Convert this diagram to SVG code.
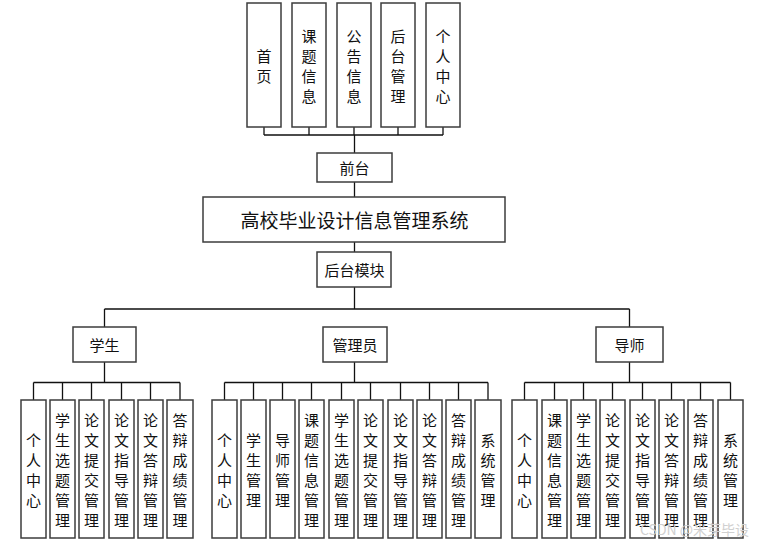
<svg xmlns="http://www.w3.org/2000/svg" width="759" height="543" viewBox="0 0 759 543">
<style>
.box{fill:#fff;stroke:#3c3c3c;stroke-width:1.5}
.ln{fill:none;stroke:#111;stroke-width:1.3}
text{font-family:"Noto Sans CJK SC","Liberation Sans",sans-serif;fill:#111;text-anchor:middle;dominant-baseline:central}
.v{font-size:15px}
.h{font-size:15px}
.t{font-size:19px}
.wm{font-size:14px;fill:#d0d0d0;text-anchor:start}
</style>
<rect width="759" height="543" fill="#fff"/>
<g id="connectors">
<path class="ln" d="M264,127V135M309,127V135M354,127V135M398,127V135M443,127V135M264,135H443M354.5,135V153"/>
<path class="ln" d="M354.5,182V197M354.5,242V252M354.5,287V309M104.5,309H629.5M104.5,309V327M629.5,309V327"/>
<path class="ln" d="M104.5,362V382.5M33.5,382.5H180M33.5,382.5V400M62.5,382.5V400M91.5,382.5V400M121.5,382.5V400M150.5,382.5V400M180,382.5V400"/>
<path class="ln" d="M354.5,362V382.5M224.5,382.5H488M224.5,382.5V400M253.5,382.5V400M282.5,382.5V400M311.5,382.5V400M341.5,382.5V400M370.5,382.5V400M400.5,382.5V400M429.5,382.5V400M458.5,382.5V400M488,382.5V400"/>
<path class="ln" d="M629.5,362V382.5M524.5,382.5H730.5M524.5,382.5V400M554.5,382.5V400M583.5,382.5V400M612.5,382.5V400M642.5,382.5V400M671.5,382.5V400M700.5,382.5V400M730.5,382.5V400"/>
</g>
<g id="top-home"><rect class="box" x="247" y="3" width="34" height="124"/><text class="v" x="264" y="55"><tspan x="264" dy="0">首</tspan><tspan x="264" dy="20">页</tspan></text></g>
<g id="top-topic"><rect class="box" x="292" y="3" width="34" height="124"/><text class="v" x="309" y="35"><tspan x="309" dy="0">课</tspan><tspan x="309" dy="20">题</tspan><tspan x="309" dy="20">信</tspan><tspan x="309" dy="20">息</tspan></text></g>
<g id="top-notice"><rect class="box" x="337" y="3" width="34" height="124"/><text class="v" x="354" y="35"><tspan x="354" dy="0">公</tspan><tspan x="354" dy="20">告</tspan><tspan x="354" dy="20">信</tspan><tspan x="354" dy="20">息</tspan></text></g>
<g id="top-admin"><rect class="box" x="381" y="3" width="34" height="124"/><text class="v" x="398" y="35"><tspan x="398" dy="0">后</tspan><tspan x="398" dy="20">台</tspan><tspan x="398" dy="20">管</tspan><tspan x="398" dy="20">理</tspan></text></g>
<g id="top-personal"><rect class="box" x="426" y="3" width="34" height="124"/><text class="v" x="443" y="35"><tspan x="443" dy="0">个</tspan><tspan x="443" dy="20">人</tspan><tspan x="443" dy="20">中</tspan><tspan x="443" dy="20">心</tspan></text></g>
<g id="frontend"><rect class="box" x="317" y="153" width="75" height="29"/><text class="h" x="354.5" y="167.5">前台</text></g>
<g id="system"><rect class="box" x="203" y="197" width="302" height="45"/><text class="t" x="354.5" y="219.5">高校毕业设计信息管理系统</text></g>
<g id="backend"><rect class="box" x="317" y="252" width="74" height="35"/><text class="h" x="354.5" y="269.5">后台模块</text></g>
<g id="student"><rect class="box" x="73" y="327" width="63" height="35"/><text class="h" x="104.5" y="344.5">学生</text></g>
<g id="manager"><rect class="box" x="323" y="327" width="64" height="35"/><text class="h" x="355" y="344.5">管理员</text></g>
<g id="tutor"><rect class="box" x="596" y="327" width="67" height="35"/><text class="h" x="629.5" y="344.5">导师</text></g>

<g id="s1"><rect class="box" x="21" y="400" width="25" height="138"/><text class="v" y="439"><tspan x="33.5" dy="0">个</tspan><tspan x="33.5" dy="20">人</tspan><tspan x="33.5" dy="20">中</tspan><tspan x="33.5" dy="20">心</tspan></text></g>
<g id="s2"><rect class="box" x="50" y="400" width="25" height="138"/><text class="v" y="419"><tspan x="62.5" dy="0">学</tspan><tspan x="62.5" dy="20">生</tspan><tspan x="62.5" dy="20">选</tspan><tspan x="62.5" dy="20">题</tspan><tspan x="62.5" dy="20">管</tspan><tspan x="62.5" dy="20">理</tspan></text></g>
<g id="s3"><rect class="box" x="79" y="400" width="25" height="138"/><text class="v" y="419"><tspan x="91.5" dy="0">论</tspan><tspan x="91.5" dy="20">文</tspan><tspan x="91.5" dy="20">提</tspan><tspan x="91.5" dy="20">交</tspan><tspan x="91.5" dy="20">管</tspan><tspan x="91.5" dy="20">理</tspan></text></g>
<g id="s4"><rect class="box" x="109" y="400" width="25" height="138"/><text class="v" y="419"><tspan x="121.5" dy="0">论</tspan><tspan x="121.5" dy="20">文</tspan><tspan x="121.5" dy="20">指</tspan><tspan x="121.5" dy="20">导</tspan><tspan x="121.5" dy="20">管</tspan><tspan x="121.5" dy="20">理</tspan></text></g>
<g id="s5"><rect class="box" x="138" y="400" width="25" height="138"/><text class="v" y="419"><tspan x="150.5" dy="0">论</tspan><tspan x="150.5" dy="20">文</tspan><tspan x="150.5" dy="20">答</tspan><tspan x="150.5" dy="20">辩</tspan><tspan x="150.5" dy="20">管</tspan><tspan x="150.5" dy="20">理</tspan></text></g>
<g id="s6"><rect class="box" x="167" y="400" width="26" height="138"/><text class="v" y="419"><tspan x="180" dy="0">答</tspan><tspan x="180" dy="20">辩</tspan><tspan x="180" dy="20">成</tspan><tspan x="180" dy="20">绩</tspan><tspan x="180" dy="20">管</tspan><tspan x="180" dy="20">理</tspan></text></g>

<g id="m1"><rect class="box" x="212" y="400" width="25" height="138"/><text class="v" y="439"><tspan x="224.5" dy="0">个</tspan><tspan x="224.5" dy="20">人</tspan><tspan x="224.5" dy="20">中</tspan><tspan x="224.5" dy="20">心</tspan></text></g>
<g id="m2"><rect class="box" x="241" y="400" width="25" height="138"/><text class="v" y="439"><tspan x="253.5" dy="0">学</tspan><tspan x="253.5" dy="20">生</tspan><tspan x="253.5" dy="20">管</tspan><tspan x="253.5" dy="20">理</tspan></text></g>
<g id="m3"><rect class="box" x="270" y="400" width="25" height="138"/><text class="v" y="439"><tspan x="282.5" dy="0">导</tspan><tspan x="282.5" dy="20">师</tspan><tspan x="282.5" dy="20">管</tspan><tspan x="282.5" dy="20">理</tspan></text></g>
<g id="m4"><rect class="box" x="299" y="400" width="25" height="138"/><text class="v" y="419"><tspan x="311.5" dy="0">课</tspan><tspan x="311.5" dy="20">题</tspan><tspan x="311.5" dy="20">信</tspan><tspan x="311.5" dy="20">息</tspan><tspan x="311.5" dy="20">管</tspan><tspan x="311.5" dy="20">理</tspan></text></g>
<g id="m5"><rect class="box" x="329" y="400" width="25" height="138"/><text class="v" y="419"><tspan x="341.5" dy="0">学</tspan><tspan x="341.5" dy="20">生</tspan><tspan x="341.5" dy="20">选</tspan><tspan x="341.5" dy="20">题</tspan><tspan x="341.5" dy="20">管</tspan><tspan x="341.5" dy="20">理</tspan></text></g>
<g id="m6"><rect class="box" x="358" y="400" width="25" height="138"/><text class="v" y="419"><tspan x="370.5" dy="0">论</tspan><tspan x="370.5" dy="20">文</tspan><tspan x="370.5" dy="20">提</tspan><tspan x="370.5" dy="20">交</tspan><tspan x="370.5" dy="20">管</tspan><tspan x="370.5" dy="20">理</tspan></text></g>
<g id="m7"><rect class="box" x="388" y="400" width="25" height="138"/><text class="v" y="419"><tspan x="400.5" dy="0">论</tspan><tspan x="400.5" dy="20">文</tspan><tspan x="400.5" dy="20">指</tspan><tspan x="400.5" dy="20">导</tspan><tspan x="400.5" dy="20">管</tspan><tspan x="400.5" dy="20">理</tspan></text></g>
<g id="m8"><rect class="box" x="417" y="400" width="25" height="138"/><text class="v" y="419"><tspan x="429.5" dy="0">论</tspan><tspan x="429.5" dy="20">文</tspan><tspan x="429.5" dy="20">答</tspan><tspan x="429.5" dy="20">辩</tspan><tspan x="429.5" dy="20">管</tspan><tspan x="429.5" dy="20">理</tspan></text></g>
<g id="m9"><rect class="box" x="446" y="400" width="25" height="138"/><text class="v" y="419"><tspan x="458.5" dy="0">答</tspan><tspan x="458.5" dy="20">辩</tspan><tspan x="458.5" dy="20">成</tspan><tspan x="458.5" dy="20">绩</tspan><tspan x="458.5" dy="20">管</tspan><tspan x="458.5" dy="20">理</tspan></text></g>
<g id="m10"><rect class="box" x="475" y="400" width="26" height="138"/><text class="v" y="439"><tspan x="488" dy="0">系</tspan><tspan x="488" dy="20">统</tspan><tspan x="488" dy="20">管</tspan><tspan x="488" dy="20">理</tspan></text></g>

<g id="t1"><rect class="box" x="512" y="400" width="25" height="138"/><text class="v" y="439"><tspan x="524.5" dy="0">个</tspan><tspan x="524.5" dy="20">人</tspan><tspan x="524.5" dy="20">中</tspan><tspan x="524.5" dy="20">心</tspan></text></g>
<g id="t2"><rect class="box" x="542" y="400" width="25" height="138"/><text class="v" y="419"><tspan x="554.5" dy="0">课</tspan><tspan x="554.5" dy="20">题</tspan><tspan x="554.5" dy="20">信</tspan><tspan x="554.5" dy="20">息</tspan><tspan x="554.5" dy="20">管</tspan><tspan x="554.5" dy="20">理</tspan></text></g>
<g id="t3"><rect class="box" x="571" y="400" width="25" height="138"/><text class="v" y="419"><tspan x="583.5" dy="0">学</tspan><tspan x="583.5" dy="20">生</tspan><tspan x="583.5" dy="20">选</tspan><tspan x="583.5" dy="20">题</tspan><tspan x="583.5" dy="20">管</tspan><tspan x="583.5" dy="20">理</tspan></text></g>
<g id="t4"><rect class="box" x="600" y="400" width="25" height="138"/><text class="v" y="419"><tspan x="612.5" dy="0">论</tspan><tspan x="612.5" dy="20">文</tspan><tspan x="612.5" dy="20">提</tspan><tspan x="612.5" dy="20">交</tspan><tspan x="612.5" dy="20">管</tspan><tspan x="612.5" dy="20">理</tspan></text></g>
<g id="t5"><rect class="box" x="630" y="400" width="25" height="138"/><text class="v" y="419"><tspan x="642.5" dy="0">论</tspan><tspan x="642.5" dy="20">文</tspan><tspan x="642.5" dy="20">指</tspan><tspan x="642.5" dy="20">导</tspan><tspan x="642.5" dy="20">管</tspan><tspan x="642.5" dy="20">理</tspan></text></g>
<g id="t6"><rect class="box" x="659" y="400" width="25" height="138"/><text class="v" y="419"><tspan x="671.5" dy="0">论</tspan><tspan x="671.5" dy="20">文</tspan><tspan x="671.5" dy="20">答</tspan><tspan x="671.5" dy="20">辩</tspan><tspan x="671.5" dy="20">管</tspan><tspan x="671.5" dy="20">理</tspan></text></g>
<g id="t7"><rect class="box" x="688" y="400" width="25" height="138"/><text class="v" y="419"><tspan x="700.5" dy="0">答</tspan><tspan x="700.5" dy="20">辩</tspan><tspan x="700.5" dy="20">成</tspan><tspan x="700.5" dy="20">绩</tspan><tspan x="700.5" dy="20">管</tspan><tspan x="700.5" dy="20">理</tspan></text></g>
<g id="t8"><rect class="box" x="718" y="400" width="25" height="138"/><text class="v" y="439"><tspan x="730.5" dy="0">系</tspan><tspan x="730.5" dy="20">统</tspan><tspan x="730.5" dy="20">管</tspan><tspan x="730.5" dy="20">理</tspan></text></g>

<text class="wm" x="640" y="529">CSDN @米芽毕设</text>
</svg>
